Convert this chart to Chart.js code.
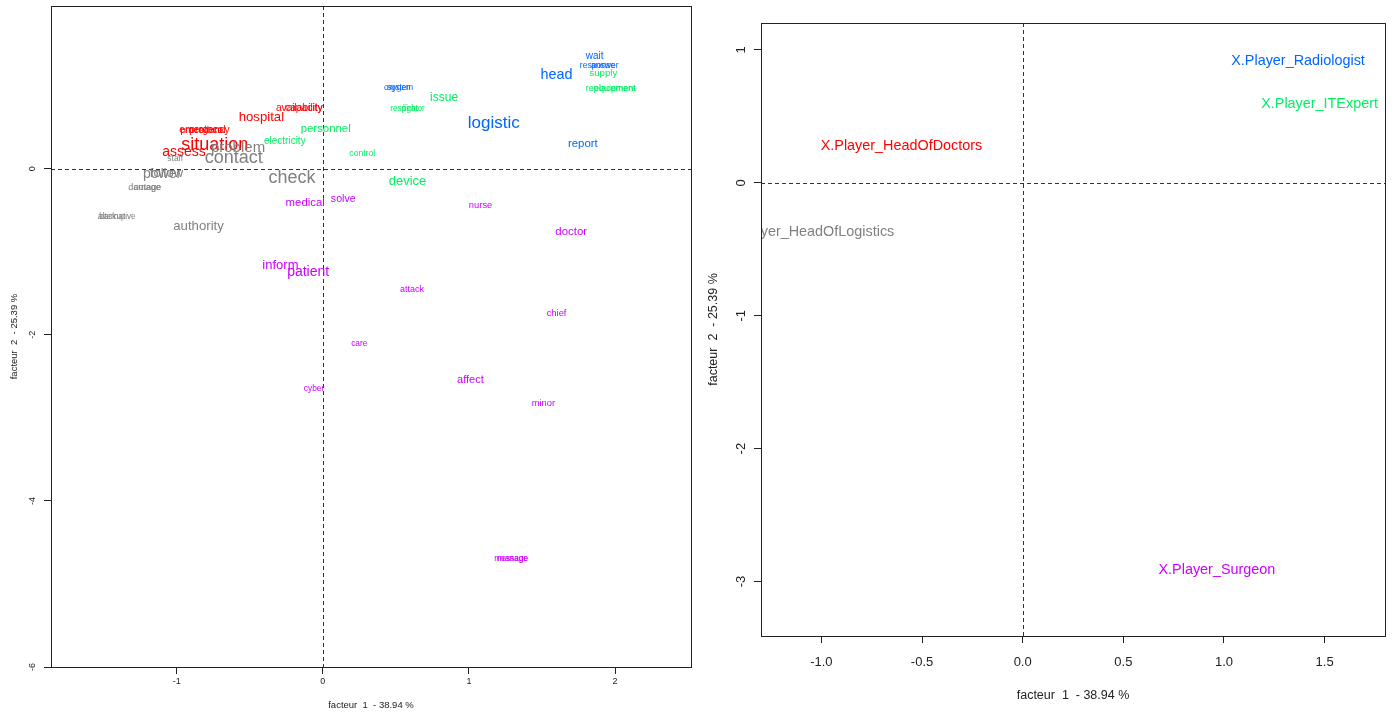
<!DOCTYPE html>
<html>
<head>
<meta charset="utf-8">
<script src="https://cdn.jsdelivr.net/npm/chart.js@4.4.1/dist/chart.umd.min.js"></script>
<style>
  html, body { margin: 0; padding: 0; background: #fff; }
  #wrap { position: relative; width: 1392px; height: 713px; }
  #left { position: absolute; left: 0; top: 0; }
  #right { position: absolute; left: 700px; top: 0; }
</style>
</head>
<body>
<div id="wrap">
  <canvas id="left" width="700" height="713"></canvas>
  <canvas id="right" width="692" height="713"></canvas>
</div>
<script>
// words plot (left) - group: 0 red, 1 grey, 2 green, 3 blue, 4 magenta
const leftWords = [
  'hospital', 'situation', 'assess', 'emergency', 'protocol', 'procedure', 'availability', 'capacity',
  'contact', 'problem', 'check', 'staff', 'power', 'follow', 'damage', 'outage', 'alternative', 'backup', 'authority',
  'personnel', 'electricity', 'control', 'issue', 'device', 'respirator', 'light', 'supply', 'replacement', 'equipment',
  'head', 'logistic', 'report', 'wait', 'response', 'answer', 'oxygen', 'system',
  'medical', 'solve', 'nurse', 'doctor', 'inform', 'patient', 'attack', 'chief', 'care', 'cyber', 'affect', 'minor', 'message', 'manage'
];
const leftX = [
  -0.42, -0.74, -0.95, -0.81, -0.79, -0.83, -0.16, -0.13,
  -0.61, -0.58, -0.21, -1.01, -1.10, -1.07, -1.22, -1.20, -1.41, -1.44, -0.85,
  0.02, -0.26, 0.27, 0.83, 0.58, 0.58, 0.60, 1.92, 1.97, 2.00,
  1.60, 1.17, 1.78, 1.86, 1.88, 1.93, 0.51, 0.53,
  -0.12, 0.14, 1.08, 1.70, -0.29, -0.10, 0.61, 1.60, 0.25, -0.06, 1.01, 1.51, 1.29, 1.30
];
const leftY = [
  0.62, 0.29, 0.20, 0.47, 0.47, 0.46, 0.73, 0.73,
  0.13, 0.25, -0.11, 0.12, -0.06, -0.06, -0.23, -0.23, -0.58, -0.58, -0.69,
  0.48, 0.33, 0.18, 0.86, -0.15, 0.72, 0.72, 1.15, 0.97, 0.97,
  1.13, 0.55, 0.30, 1.36, 1.24, 1.24, 0.98, 0.97,
  -0.41, -0.37, -0.44, -0.76, -1.17, -1.24, -1.45, -1.74, -2.11, -2.65, -2.54, -2.82, -4.69, -4.70
];
const leftGroup = [
  0, 0, 0, 0, 0, 0, 0, 0,
  1, 1, 1, 1, 1, 1, 1, 1, 1, 1, 1,
  2, 2, 2, 2, 2, 2, 2, 2, 2, 2,
  3, 3, 3, 3, 3, 3, 3, 3,
  4, 4, 4, 4, 4, 4, 4, 4, 4, 4, 4, 4, 4, 4
];
// relative label size (cex)
const leftCex = [
  1.10, 1.50, 1.17, 0.85, 0.85, 0.78, 0.85, 0.85,
  1.50, 1.25, 1.50, 0.70, 1.17, 1.08, 0.75, 0.75, 0.68, 0.68, 1.10,
  0.95, 0.83, 0.72, 1.00, 1.08, 0.68, 0.68, 0.80, 0.75, 0.75,
  1.20, 1.42, 0.95, 0.83, 0.72, 0.72, 0.68, 0.68,
  0.95, 0.88, 0.78, 0.95, 1.08, 1.17, 0.75, 0.78, 0.70, 0.70, 0.92, 0.78, 0.70, 0.70
];
const leftXTicks = [-1, 0, 1, 2];
const leftYTicks = [-6, -4, -2, 0];

// players plot (right)
const rightWords = ['X.Player_Radiologist', 'X.Player_ITExpert', 'X.Player_HeadOfDoctors', 'X.Player_HeadOfLogistics', 'X.Player_Surgeon'];
const rightX = [1.368, 1.475, -0.602, -1.055, 0.965];
const rightY = [0.917, 0.594, 0.278, -0.368, -2.91];
const rightGroup = [3, 2, 0, 1, 4];
const rightXTicks = [-1.0, -0.5, 0.0, 0.5, 1.0, 1.5];
const rightYTicks = [-3, -2, -1, 0, 1];

const xTitle = 'facteur  1  - 38.94 %';
const yTitle = 'facteur  2  - 25.39 %';

const groupColors = ['#FF0000', '#808080', '#00F062', '#0066FF', '#CC00FF'];
const FONT = '"Liberation Sans", Arial, sans-serif';

function buildDatasets(words, xs, ys, groups, cex) {
  return groupColors.map((color, g) => {
    const idx = words.map((w, i) => i).filter(i => groups[i] === g);
    return {
      data: idx.map(i => ({ x: xs[i], y: ys[i] })),
      words: idx.map(i => words[i]),
      cex: idx.map(i => (cex ? cex[i] : 1)),
      color,
      pointRadius: 0,
      pointHoverRadius: 0
    };
  });
}

// draws each word at its point, clipped to the plot region like R does
const wordLabels = {
  id: 'wordLabels',
  afterDatasetsDraw(chart, args, opts) {
    const { ctx, chartArea: a } = chart;
    ctx.save();
    ctx.beginPath();
    ctx.rect(a.left, a.top, a.right - a.left, a.bottom - a.top);
    ctx.clip();
    ctx.textAlign = 'center';
    ctx.textBaseline = 'middle';
    chart.data.datasets.forEach((ds, d) => {
      const meta = chart.getDatasetMeta(d);
      ctx.fillStyle = ds.color;
      meta.data.forEach((pt, i) => {
        ctx.font = (opts.base * ds.cex[i]).toFixed(1) + 'px ' + FONT;
        ctx.fillText(ds.words[i], pt.x, pt.y);
      });
    });
    ctx.restore();
  }
};

// zero lines, box and rotated y tick labels
const frame = {
  id: 'frame',
  beforeDatasetsDraw(chart) {
    const { ctx, chartArea: a, scales: { x, y } } = chart;
    const x0 = x.getPixelForValue(0), y0 = y.getPixelForValue(0);
    ctx.save();
    ctx.strokeStyle = '#333';
    ctx.lineWidth = 1;
    ctx.setLineDash([4, 3]);
    ctx.beginPath();
    ctx.moveTo(Math.round(x0) + 0.5, a.top);
    ctx.lineTo(Math.round(x0) + 0.5, a.bottom);
    ctx.moveTo(a.left, Math.round(y0) + 0.5);
    ctx.lineTo(a.right, Math.round(y0) + 0.5);
    ctx.stroke();
    ctx.restore();
  },
  afterDraw(chart, args, opts) {
    const { ctx, chartArea: a, scales: { y } } = chart;
    ctx.save();
    ctx.strokeStyle = '#222';
    ctx.lineWidth = 1;
    ctx.strokeRect(Math.round(a.left) + 0.5, Math.round(a.top) + 0.5,
      Math.round(a.right - a.left), Math.round(a.bottom - a.top));
    ctx.fillStyle = '#222';
    ctx.font = opts.tickSize + 'px ' + FONT;
    ctx.textAlign = 'center';
    ctx.textBaseline = 'middle';
    y.ticks.forEach(t => {
      ctx.save();
      ctx.translate(opts.yLabelX, y.getPixelForValue(t.value));
      ctx.rotate(-Math.PI / 2);
      ctx.fillText(String(t.value), 0, 0);
      ctx.restore();
    });
    ctx.restore();
  }
};

function makeChart(id, datasets, o) {
  return new Chart(document.getElementById(id), {
    type: 'scatter',
    data: { datasets },
    plugins: [frame, wordLabels],
    options: {
      responsive: false,
      animation: false,
      events: [],
      layout: { padding: { top: o.top, right: o.right, left: 0, bottom: 0 } },
      plugins: {
        legend: { display: false },
        tooltip: { enabled: false },
        wordLabels: { base: o.base },
        frame: { tickSize: o.tickSize, yLabelX: o.yLabelX }
      },
      scales: {
        x: {
          type: 'linear', min: o.xMin, max: o.xMax,
          afterBuildTicks: s => { s.ticks = o.xTicks.map(v => ({ value: v })); },
          afterFit: s => { s.height = o.xHeight; },
          grid: { drawOnChartArea: false, drawTicks: true, tickLength: 7, color: '#222' },
          border: { display: false },
          ticks: {
            autoSkip: false, maxRotation: 0, padding: o.xPad, color: '#222',
            font: { family: FONT, size: o.tickSize },
            callback: o.fmt
          },
          title: {
            display: true, text: xTitle, color: '#222',
            font: { family: FONT, size: o.titleSize },
            padding: { top: 0, bottom: o.xTitlePad }
          }
        },
        y: {
          type: 'linear', min: o.yMin, max: o.yMax,
          afterBuildTicks: s => { s.ticks = o.yTicks.map(v => ({ value: v })); },
          afterFit: s => { s.width = o.yWidth; },
          grid: { drawOnChartArea: false, drawTicks: true, tickLength: 7, color: '#222' },
          border: { display: false },
          ticks: { display: false },
          title: {
            display: true, text: yTitle, color: '#222',
            font: { family: FONT, size: o.titleSize },
            padding: { top: o.yTitlePad, bottom: 0 }
          }
        }
      }
    }
  });
}

makeChart('left', buildDatasets(leftWords, leftX, leftY, leftGroup, leftCex), {
  xMin: -1.86, xMax: 2.52, yMin: -6.0, yMax: 1.96,
  xTicks: leftXTicks, yTicks: leftYTicks,
  top: 6, right: 9, xHeight: 46, yWidth: 51,
  base: 12, tickSize: 9, titleSize: 9.5,
  xPad: 2, xTitlePad: 2.3, yTitlePad: 8.3, yLabelX: 33,
  fmt: v => String(v)
});

makeChart('right', buildDatasets(rightWords, rightX, rightY, rightGroup, null), {
  xMin: -1.30, xMax: 1.80, yMin: -3.41, yMax: 1.203,
  xTicks: rightXTicks, yTicks: rightYTicks,
  top: 23, right: 7, xHeight: 77, yWidth: 61,
  base: 14.4, tickSize: 13, titleSize: 12.5,
  xPad: 12, xTitlePad: 9.5, yTitlePad: 6.5, yLabelX: 41,
  fmt: v => v.toFixed(1)
});
</script>
</body>
</html>
